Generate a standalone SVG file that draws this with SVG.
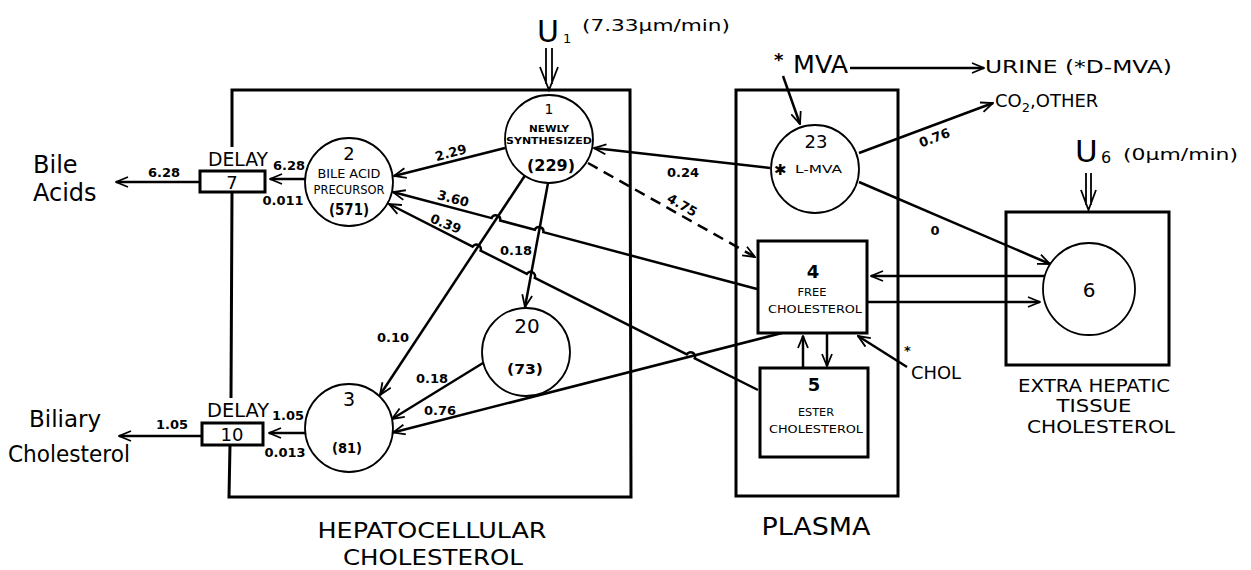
<svg xmlns="http://www.w3.org/2000/svg" width="1251" height="570" viewBox="0 0 1251 570">
<defs>
<style>
.box{fill:none;stroke:#000;stroke-width:3}
.rbox{fill:#fff;stroke:#000;stroke-width:3}
.circ{fill:#fff;stroke:#000;stroke-width:1.8}
.c{fill:none;stroke:#000;stroke-width:2.5}
.thin{fill:none;stroke:#000;stroke-width:1.8}
.dash{stroke-dasharray:11 7}
text{font-family:"DejaVu Sans","Liberation Sans",sans-serif;fill:#000}
.m{text-anchor:middle}
.b{font-weight:bold}
.lab{font-size:13px;font-weight:bold}
</style>
<marker id="a" viewBox="0 0 14 12" refX="13" refY="6" markerWidth="14" markerHeight="12" markerUnits="userSpaceOnUse" orient="auto">
<path d="M1,1 L13,6 L1,11" fill="none" stroke="#000" stroke-width="1.8"/>
</marker>
</defs>

<g id="compartments">
<path class="box" d="M232,147 L232,90 L630,90 L631,497 L229,497 L230,445 M231,398 L232,192"/>
<rect class="box" x="736" y="90" width="162" height="406"/>
<rect class="box" x="1006" y="212" width="163" height="153"/>
<text class="m" x="432" y="538" font-size="22" textLength="229" lengthAdjust="spacingAndGlyphs">HEPATOCELLULAR</text>
<text class="m" x="433" y="565" font-size="22" textLength="180" lengthAdjust="spacingAndGlyphs">CHOLESTEROL</text>
<text class="m" x="816" y="535" font-size="24" textLength="109" lengthAdjust="spacingAndGlyphs">PLASMA</text>
<text x="1018" y="392" font-size="18" textLength="152" lengthAdjust="spacingAndGlyphs">EXTRA HEPATIC</text>
<text class="m" x="1094" y="412" font-size="18" textLength="75" lengthAdjust="spacingAndGlyphs">TISSUE</text>
<text class="m" x="1101" y="433" font-size="18" textLength="148" lengthAdjust="spacingAndGlyphs">CHOLESTEROL</text>
</g>

<g id="connectors">
<!-- U1 input -->
<path class="thin" d="M546,48 L546,84 M552,48 L552,84 M540,67 L549,90 L558,67"/>
<!-- U6 input -->
<path class="thin" d="M1086,173 L1086,205 M1091,173 L1091,205 M1081,190 L1088.5,210 L1096,190"/>
<path class="c" marker-end="url(#a)" d="M505,148 L394,176"/>
<path class="c" marker-end="url(#a)" d="M757,289 L543.4,232.2 A4.5,4.5 0 0 0 534.8,229.8 L500.2,220.5 A4.5,4.5 0 0 0 491.6,218.1 L393,192"/>
<path class="c" marker-end="url(#a)" d="M758,390 L694.8,358.3 A4.5,4.5 0 0 0 686.8,354.3 L534.8,277.9 A4.5,4.5 0 0 0 526.8,273.9 L480.6,250.6 A4.5,4.5 0 0 0 472.6,246.6 L389,204"/>
<path class="c" marker-end="url(#a)" d="M524.8,175.7 L380,395"/>
<path class="c" marker-end="url(#a)" d="M548,183 L525,307"/>
<path class="c" marker-end="url(#a)" d="M483,363 L392,419"/>
<path class="c" marker-end="url(#a)" d="M782,333 L393,432.5"/>
<path class="c dash" marker-end="url(#a)" d="M588,163 L755,257"/>
<path class="c" marker-end="url(#a)" d="M770,168 L594,148"/>
<path class="c" marker-end="url(#a)" d="M783,76 L800,124"/>
<path class="c" marker-end="url(#a)" d="M850,68 L984,68"/>
<path class="c" marker-end="url(#a)" d="M859,153 L993,103"/>
<path class="c" marker-end="url(#a)" d="M859,182 L1050,264"/>
<path class="c" marker-end="url(#a)" d="M1045,276 L871,276"/>
<path class="c" marker-end="url(#a)" d="M867,302 L1040,302"/>
<path class="c" marker-end="url(#a)" d="M803,368 L803,336"/>
<path class="c" marker-end="url(#a)" d="M827,333 L827,366"/>
<path class="c" marker-end="url(#a)" d="M907,367 L858,336"/>
<path class="c" marker-end="url(#a)" d="M305,179 L270,179"/>
<path class="c" marker-end="url(#a)" d="M200,182 L116,182"/>
<path class="c" marker-end="url(#a)" d="M305,433 L269,433"/>
<path class="c" marker-end="url(#a)" d="M202,436 L119,436"/>
<!-- flow labels -->
<text class="lab m" transform="translate(452,157) rotate(-15)">2.29</text>
<text class="lab m" transform="translate(452,203) rotate(15)">3.60</text>
<text class="lab m" transform="translate(444,228) rotate(22)">0.39</text>
<text class="lab m" transform="translate(680,209) rotate(30)">4.75</text>
<text class="lab m" x="683" y="177">0.24</text>
<text class="lab m" x="516" y="255">0.18</text>
<text class="lab m" x="393" y="342">0.10</text>
<text class="lab m" x="432" y="383">0.18</text>
<text class="lab m" x="440" y="415">0.76</text>
<text class="lab m" transform="translate(936,142) rotate(-20)">0.76</text>
<text class="lab m" x="935" y="235" font-weight="normal" font-size="14">0</text>
<text class="lab m" x="164" y="177">6.28</text>
<text class="lab m" x="289" y="170">6.28</text>
<text class="lab m" x="283" y="205">0.011</text>
<text class="lab m" x="288" y="420">1.05</text>
<text class="lab m" x="285" y="457">0.013</text>
<text class="lab m" x="172" y="429">1.05</text>
<!-- sources / sinks -->
<text x="537" y="42" font-size="30">U</text>
<text x="563" y="43" font-size="13">1</text>
<text x="582" y="31" font-size="15" textLength="148" lengthAdjust="spacingAndGlyphs">(7.33μm/min)</text>
<text x="1075" y="162" font-size="31">U</text>
<text x="1101" y="163" font-size="16">6</text>
<text x="1123" y="160" font-size="16" textLength="115" lengthAdjust="spacingAndGlyphs">(0μm/min)</text>
<text x="774" y="66" font-size="18" class="b">*</text>
<text x="793" y="73" font-size="24" textLength="55" lengthAdjust="spacingAndGlyphs">MVA</text>
<text x="985" y="73" font-size="18" textLength="187" lengthAdjust="spacingAndGlyphs">URINE (*D-MVA)</text>
<text x="995" y="107" font-size="18">CO<tspan font-size="13" dy="5">2</tspan><tspan dy="-5">,OTHER</tspan></text>
<text x="904" y="355" font-size="13" class="b">*</text>
<text x="911" y="379" font-size="18" textLength="50" lengthAdjust="spacingAndGlyphs">CHOL</text>
<text x="33" y="173" font-size="24">Bile</text>
<text x="33" y="201" font-size="24">Acids</text>
<text x="29" y="427" font-size="23">Biliary</text>
<text x="8" y="462" font-size="23" textLength="122" lengthAdjust="spacingAndGlyphs">Cholesterol</text>
</g>

<g id="node1">
<circle class="circ" cx="549" cy="139" r="44"/>
<text class="m" x="549" y="114" font-size="14">1</text>
<text class="m b" x="549" y="132" font-size="9.5" textLength="40" lengthAdjust="spacingAndGlyphs">NEWLY</text>
<text class="m b" x="549" y="144" font-size="9.5" textLength="86" lengthAdjust="spacingAndGlyphs">SYNTHESIZED</text>
<text class="m b" x="551" y="171" font-size="16" textLength="48" lengthAdjust="spacingAndGlyphs">(229)</text>
</g>

<g id="node2">
<circle class="circ" cx="349" cy="182" r="44"/>
<text class="m" x="349" y="160" font-size="18">2</text>
<text class="m" x="349" y="178" font-size="11.5" textLength="63" lengthAdjust="spacingAndGlyphs">BILE ACID</text>
<text class="m" x="349" y="194" font-size="11.5" textLength="71" lengthAdjust="spacingAndGlyphs">PRECURSOR</text>
<text class="m b" x="349" y="215" font-size="15" textLength="40" lengthAdjust="spacingAndGlyphs">(571)</text>
</g>

<g id="node3">
<circle class="circ" cx="349" cy="428" r="44"/>
<text class="m" x="349" y="406" font-size="19">3</text>
<text class="m b" x="347" y="453" font-size="14" textLength="30" lengthAdjust="spacingAndGlyphs">(81)</text>
</g>

<g id="node20">
<circle class="circ" cx="526" cy="352" r="44"/>
<text class="m" x="527" y="333" font-size="20">20</text>
<text class="m b" x="525" y="374" font-size="14" textLength="36" lengthAdjust="spacingAndGlyphs">(73)</text>
</g>

<g id="node23">
<circle class="circ" cx="815" cy="169" r="44"/>
<text class="m" x="816" y="148" font-size="18">23</text>
<text x="774" y="175" font-size="15" class="b">✱</text>
<text x="795" y="173" font-size="10" textLength="47" lengthAdjust="spacingAndGlyphs">L-MVA</text>
</g>

<g id="node4">
<rect class="rbox" x="758" y="241" width="109" height="92"/>
<text class="m b" x="813" y="278" font-size="18">4</text>
<text class="m" x="812" y="296" font-size="11" textLength="29" lengthAdjust="spacingAndGlyphs">FREE</text>
<text class="m" x="815" y="313" font-size="11" textLength="94" lengthAdjust="spacingAndGlyphs">CHOLESTEROL</text>
</g>

<g id="node5">
<rect class="rbox" x="760" y="368" width="108" height="89"/>
<text class="m b" x="814" y="391" font-size="18">5</text>
<text class="m" x="816" y="416" font-size="11" textLength="36" lengthAdjust="spacingAndGlyphs">ESTER</text>
<text class="m" x="816" y="433" font-size="11" textLength="94" lengthAdjust="spacingAndGlyphs">CHOLESTEROL</text>
</g>

<g id="node6">
<circle class="circ" cx="1089" cy="289" r="46"/>
<text class="m" x="1089" y="297" font-size="20">6</text>
</g>

<g id="delay7">
<rect class="rbox" x="200" y="171" width="65" height="21"/>
<text class="m" x="238" y="166" font-size="19" textLength="60" lengthAdjust="spacingAndGlyphs">DELAY</text>
<text class="m" x="232" y="189" font-size="18">7</text>
</g>

<g id="delay10">
<rect class="rbox" x="202" y="423" width="61" height="22"/>
<text class="m" x="238" y="417" font-size="19" textLength="62" lengthAdjust="spacingAndGlyphs">DELAY</text>
<text class="m" x="232" y="441" font-size="18">10</text>
</g>
</svg>
